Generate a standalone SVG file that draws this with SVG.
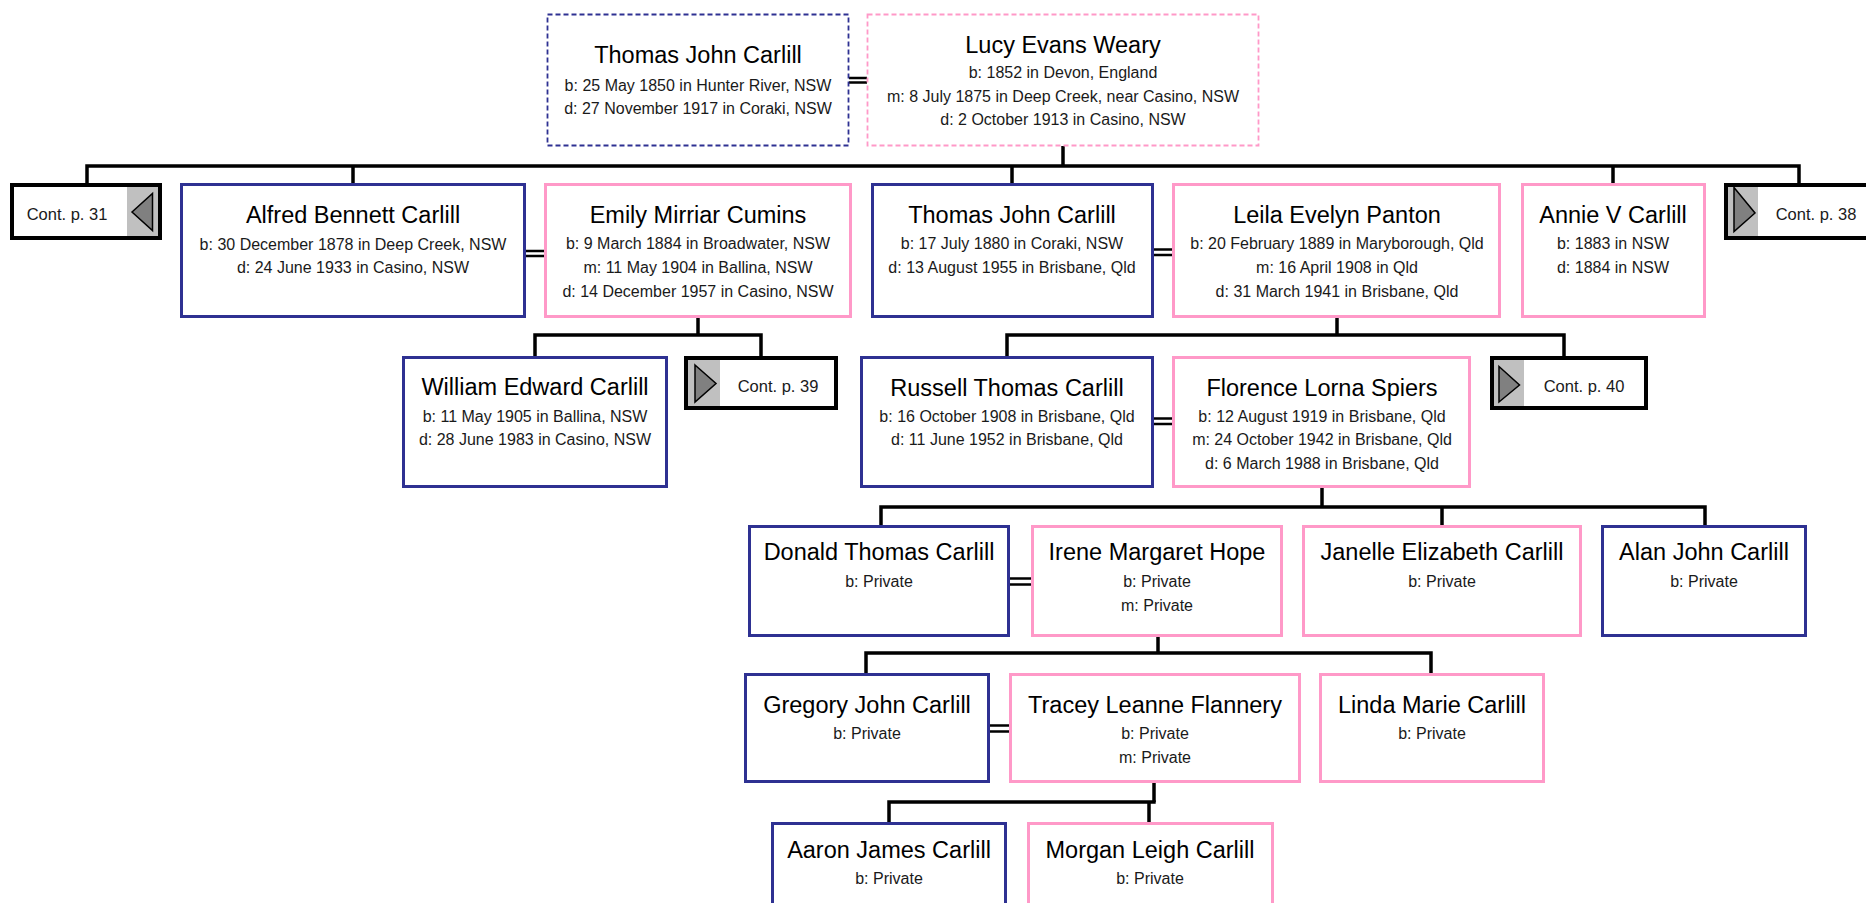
<svg xmlns="http://www.w3.org/2000/svg" width="1866" height="903" viewBox="0 0 1866 903">
<style>
.bg{fill:#ffffff}
.m{fill:#ffffff;stroke:#2e3192;stroke-width:3}
.f{fill:#ffffff;stroke:#ff99c8;stroke-width:3}
.md{fill:#ffffff;stroke:#2e3192;stroke-width:1.8;stroke-dasharray:5 3}
.fd{fill:#ffffff;stroke:#ff99c8;stroke-width:1.8;stroke-dasharray:5 3}
.cb{fill:#ffffff;stroke:#000000;stroke-width:4}
.cg{fill:#c0c0c0;stroke:none}
.tri{fill:#808080;stroke:#000000;stroke-width:1.5;stroke-linejoin:miter}
.n{font-family:"Liberation Sans",Arial,sans-serif;font-size:23.5px;fill:#000000;text-anchor:middle}
.d{font-family:"Liberation Sans",Arial,sans-serif;font-size:16px;fill:#1a1a1a;text-anchor:middle}
.c{font-family:"Liberation Sans",Arial,sans-serif;font-size:16.5px;fill:#1a1a1a;text-anchor:middle}
.ln{fill:none;stroke:#000000;stroke-width:3.5;stroke-linecap:butt;stroke-linejoin:miter}
.dbl{fill:none;stroke:#000000;stroke-width:2.5}
</style>
<rect class="bg" x="0" y="0" width="1866" height="903"/>
<g id="connectors">
<path class="ln" d="M1063 146 V166"/>
<path class="ln" d="M87 183 V166 H1799 V183"/>
<path class="ln" d="M353 166 V183 M1012 166 V183 M1613 166 V183"/>
<path class="ln" d="M698 318 V335"/>
<path class="ln" d="M535 356 V335 H761 V356"/>
<path class="ln" d="M1337 318 V335"/>
<path class="ln" d="M1007 356 V335 H1564 V356"/>
<path class="ln" d="M1322 488 V507"/>
<path class="ln" d="M881 525 V507 H1705 V525 M1442 507 V525"/>
<path class="ln" d="M1158 636 V653"/>
<path class="ln" d="M866 673 V653 H1431 V673"/>
<path class="ln" d="M1154 783 V802"/>
<path class="ln" d="M889 822 V802 H1155.7 M1149 802 V822"/>
<path class="dbl" d="M849 78 H867 M849 82.5 H867"/>
<path class="dbl" d="M526 251 H544 M526 256 H544"/>
<path class="dbl" d="M1154 249.5 H1172 M1154 255 H1172"/>
<path class="dbl" d="M1154 418.5 H1172 M1154 424 H1172"/>
<path class="dbl" d="M1010 578.5 H1031 M1010 584.5 H1031"/>
<path class="dbl" d="M990 725.5 H1009 M990 731.5 H1009"/>
</g>
<g id="thomas-senior">
<rect class="md" x="547.5" y="14.5" width="301" height="131"/>
<text class="n" x="698" y="63">Thomas John Carlill</text>
<text class="d" x="698" y="91">b: 25 May 1850 in Hunter River, NSW</text>
<text class="d" x="698" y="114">d: 27 November 1917 in Coraki, NSW</text>
</g>
<g id="lucy">
<rect class="fd" x="867.5" y="14.5" width="391" height="131"/>
<text class="n" x="1063" y="53">Lucy Evans Weary</text>
<text class="d" x="1063" y="78">b: 1852 in Devon, England</text>
<text class="d" x="1063" y="102">m: 8 July 1875 in Deep Creek, near Casino, NSW</text>
<text class="d" x="1063" y="125">d: 2 October 1913 in Casino, NSW</text>
</g>
<g id="cont31">
<rect class="cb" x="12" y="185" width="148" height="53"/>
<rect class="cg" x="127" y="187" width="31" height="49"/>
<polygon class="tri" points="132,212 152.5,193.5 152.5,230.5"/>
<text class="c" x="67" y="220">Cont. p. 31</text>
</g>
<g id="alfred">
<rect class="m" x="181.5" y="184.5" width="343" height="132"/>
<text class="n" x="353" y="223">Alfred Bennett Carlill</text>
<text class="d" x="353" y="250">b: 30 December 1878 in Deep Creek, NSW</text>
<text class="d" x="353" y="273">d: 24 June 1933 in Casino, NSW</text>
</g>
<g id="emily">
<rect class="f" x="545.5" y="184.5" width="305" height="132"/>
<text class="n" x="698" y="223">Emily Mirriar Cumins</text>
<text class="d" x="698" y="249">b: 9 March 1884 in Broadwater, NSW</text>
<text class="d" x="698" y="273">m: 11 May 1904 in Ballina, NSW</text>
<text class="d" x="698" y="297">d: 14 December 1957 in Casino, NSW</text>
</g>
<g id="thomas-junior">
<rect class="m" x="872.5" y="184.5" width="280" height="132"/>
<text class="n" x="1012" y="223">Thomas John Carlill</text>
<text class="d" x="1012" y="249">b: 17 July 1880 in Coraki, NSW</text>
<text class="d" x="1012" y="273">d: 13 August 1955 in Brisbane, Qld</text>
</g>
<g id="leila">
<rect class="f" x="1173.5" y="184.5" width="326" height="132"/>
<text class="n" x="1337" y="223">Leila Evelyn Panton</text>
<text class="d" x="1337" y="249">b: 20 February 1889 in Maryborough, Qld</text>
<text class="d" x="1337" y="273">m: 16 April 1908 in Qld</text>
<text class="d" x="1337" y="297">d: 31 March 1941 in Brisbane, Qld</text>
</g>
<g id="annie">
<rect class="f" x="1522.5" y="184.5" width="182" height="132"/>
<text class="n" x="1613" y="223">Annie V Carlill</text>
<text class="d" x="1613" y="249">b: 1883 in NSW</text>
<text class="d" x="1613" y="273">d: 1884 in NSW</text>
</g>
<g id="cont38">
<rect class="cb" x="1726" y="185" width="150" height="53"/>
<rect class="cg" x="1728" y="187" width="30" height="49"/>
<polygon class="tri" points="1734,187.5 1755,213 1734,231.5"/>
<text class="c" x="1816" y="220">Cont. p. 38</text>
</g>
<g id="william">
<rect class="m" x="403.5" y="357.5" width="263" height="129"/>
<text class="n" x="535" y="395">William Edward Carlill</text>
<text class="d" x="535" y="422">b: 11 May 1905 in Ballina, NSW</text>
<text class="d" x="535" y="445">d: 28 June 1983 in Casino, NSW</text>
</g>
<g id="cont39">
<rect class="cb" x="686" y="358" width="150" height="50"/>
<rect class="cg" x="688" y="360" width="32" height="46"/>
<polygon class="tri" points="695,365 716,383.5 695,402"/>
<text class="c" x="778" y="392">Cont. p. 39</text>
</g>
<g id="russell">
<rect class="m" x="861.5" y="357.5" width="291" height="129"/>
<text class="n" x="1007" y="396">Russell Thomas Carlill</text>
<text class="d" x="1007" y="422">b: 16 October 1908 in Brisbane, Qld</text>
<text class="d" x="1007" y="445">d: 11 June 1952 in Brisbane, Qld</text>
</g>
<g id="florence">
<rect class="f" x="1173.5" y="357.5" width="296" height="129"/>
<text class="n" x="1322" y="396">Florence Lorna Spiers</text>
<text class="d" x="1322" y="422">b: 12 August 1919 in Brisbane, Qld</text>
<text class="d" x="1322" y="445">m: 24 October 1942 in Brisbane, Qld</text>
<text class="d" x="1322" y="469">d: 6 March 1988 in Brisbane, Qld</text>
</g>
<g id="cont40">
<rect class="cb" x="1492" y="358" width="154" height="50"/>
<rect class="cg" x="1494" y="360" width="30" height="46"/>
<polygon class="tri" points="1499,366.5 1519.5,385 1499,402"/>
<text class="c" x="1584" y="392">Cont. p. 40</text>
</g>
<g id="donald">
<rect class="m" x="749.5" y="526.5" width="259" height="109"/>
<text class="n" x="879" y="560">Donald Thomas Carlill</text>
<text class="d" x="879" y="587">b: Private</text>
</g>
<g id="irene">
<rect class="f" x="1032.5" y="526.5" width="249" height="109"/>
<text class="n" x="1157" y="560">Irene Margaret Hope</text>
<text class="d" x="1157" y="587">b: Private</text>
<text class="d" x="1157" y="611">m: Private</text>
</g>
<g id="janelle">
<rect class="f" x="1303.5" y="526.5" width="277" height="109"/>
<text class="n" x="1442" y="560">Janelle Elizabeth Carlill</text>
<text class="d" x="1442" y="587">b: Private</text>
</g>
<g id="alan">
<rect class="m" x="1602.5" y="526.5" width="203" height="109"/>
<text class="n" x="1704" y="560">Alan John Carlill</text>
<text class="d" x="1704" y="587">b: Private</text>
</g>
<g id="gregory">
<rect class="m" x="745.5" y="674.5" width="243" height="107"/>
<text class="n" x="867" y="713">Gregory John Carlill</text>
<text class="d" x="867" y="739">b: Private</text>
</g>
<g id="tracey">
<rect class="f" x="1010.5" y="674.5" width="289" height="107"/>
<text class="n" x="1155" y="713">Tracey Leanne Flannery</text>
<text class="d" x="1155" y="739">b: Private</text>
<text class="d" x="1155" y="763">m: Private</text>
</g>
<g id="linda">
<rect class="f" x="1320.5" y="674.5" width="223" height="107"/>
<text class="n" x="1432" y="713">Linda Marie Carlill</text>
<text class="d" x="1432" y="739">b: Private</text>
</g>
<g id="aaron">
<rect class="m" x="772.5" y="823.5" width="233" height="110"/>
<text class="n" x="889" y="858">Aaron James Carlill</text>
<text class="d" x="889" y="884">b: Private</text>
</g>
<g id="morgan">
<rect class="f" x="1028.5" y="823.5" width="244" height="110"/>
<text class="n" x="1150" y="858">Morgan Leigh Carlill</text>
<text class="d" x="1150" y="884">b: Private</text>
</g>
</svg>
